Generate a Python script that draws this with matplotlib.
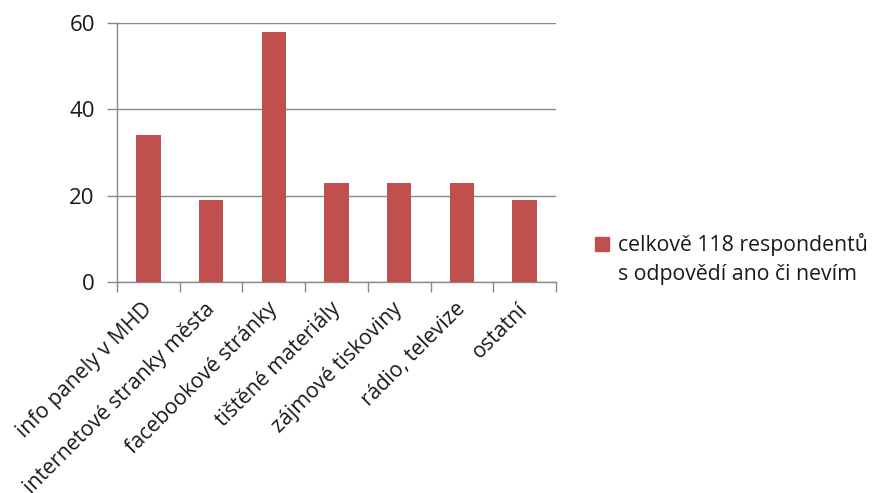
import matplotlib
matplotlib.use("Agg")
from matplotlib import pyplot as plt
from matplotlib.patches import Patch
from matplotlib.transforms import ScaledTranslation
import numpy as np

plt.rcParams['font.family'] = ['Open Sans', 'DejaVu Sans']

kategorie = ['info panely v MHD', 'internetové stranky města', 'facebookové stránky',
             'tištěné materiály', 'zájmové tiskoviny', 'rádio, televize', 'ostatní']
hodnoty = [34, 19, 58, 23, 23, 23, 19]
legenda = 'celkově 118 respondentů\ns odpovědí ano či nevím'

barva = '#C0504D'
seda = '#898989'
text_barva = '#1a1a1a'

fig = plt.figure(figsize=(8.73, 4.93), dpi=100)
ax = fig.add_axes([117 / 873, 1 - 282 / 493, (556 - 117) / 873, (282 - 23) / 493])

x = np.arange(len(kategorie))
ax.bar(x, hodnoty, width=0.39, color=barva, zorder=3)

ax.set_xlim(-0.5, len(kategorie) - 0.5)
ax.set_ylim(0, 60)
ax.set_yticks([0, 20, 40, 60])
ax.yaxis.grid(True, color=seda, linewidth=1.0, zorder=0)

ax.set_xticks(np.arange(len(kategorie) + 1) - 0.5)
ax.set_xticklabels([])
ax.set_xticks(x, minor=True)
ax.set_xticklabels(kategorie, minor=True, rotation=45, ha='right', va='top',
                   rotation_mode='anchor', fontsize=15.3, color=text_barva)
ax.tick_params(axis='x', which='minor', length=0, pad=12)
ax.tick_params(axis='x', which='major', length=7, color=seda, width=1)
ax.tick_params(axis='y', length=7, color=seda, width=1, labelsize=16, labelcolor=text_barva, pad=9)

# popisky trochu doleva
posun = ScaledTranslation(-7 / 100, 0, fig.dpi_scale_trans)
for t in ax.get_xticklabels(minor=True):
    t.set_transform(t.get_transform() + posun)

for s in ['top', 'right']:
    ax.spines[s].set_visible(False)
for s in ['left', 'bottom']:
    ax.spines[s].set_color(seda)
    ax.spines[s].set_linewidth(1)

leg = fig.legend(handles=[Patch(color=barva, label=legenda)], loc='center left',
                 bbox_to_anchor=(576 / 873, 1 - 259 / 493), frameon=False, fontsize=15.3,
                 handlelength=0.65, handleheight=0.65, handletextpad=0.45,
                 labelcolor=text_barva)
leg.get_texts()[0].set_linespacing(1.45)
# posunout ctverecek k prvnimu radku
h = leg.legend_handles[0]
h.set_y(h.get_y() + 11)

fig.savefig('out.png', dpi=100)
